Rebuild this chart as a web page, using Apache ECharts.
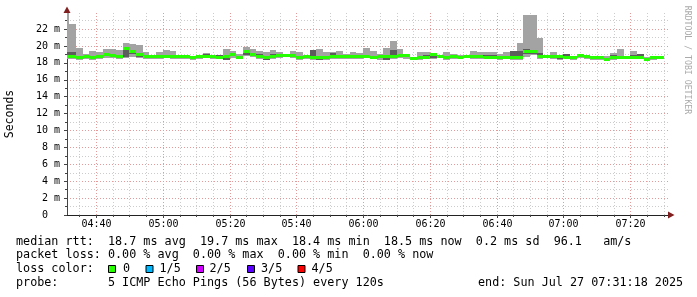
<!DOCTYPE html>
<html><head><meta charset="utf-8">
<script src="https://cdn.jsdelivr.net/npm/echarts@6/dist/echarts.min.js"></script>
<style>html,body{margin:0;padding:0;background:#fff}#c{width:697px;height:297px}</style>
</head><body><div id="c"></div>
<script>
// ---- data (ms) ----
const firstStep = '04:30';
const stepMinutes = 2;
const viewStart = '04:31:18';
const viewEnd = '07:31:18';
const medianRtt = [18.73,18.73,18.66,18.70,18.66,18.78,19.05,18.90,18.78,19.68,19.37,18.97,18.70,18.70,18.70,18.70,18.70,18.70,18.70,18.58,
  18.78,18.78,18.70,18.66,18.78,18.97,18.66,19.29,19.05,18.78,18.58,18.70,18.86,18.86,18.90,18.58,18.70,18.58,18.58,18.58,
  18.70,18.70,18.70,18.70,18.70,18.78,18.66,18.70,18.78,18.70,18.86,18.86,18.50,18.58,18.66,18.97,18.78,18.58,18.78,18.66,
  18.78,18.70,18.70,18.66,18.66,18.58,18.66,18.58,18.66,19.29,19.37,18.78,18.78,18.78,18.70,18.66,18.58,18.90,18.70,18.58,
  18.58,18.46,18.58,18.58,18.58,18.66,18.58,18.38,18.58,18.66];
const pingMax = [23.9,22.6,19.8,19.05,19.4,19.3,19.65,19.65,19.55,20.35,20.2,20.1,19.3,18.8,19.3,19.55,19.37,18.95,18.85,18.75,
  18.97,19.17,18.78,18.97,19.64,19.37,19.05,19.88,19.64,19.37,19.29,19.57,19.29,19.05,19.45,19.29,18.86,19.50,19.64,19.29,
  19.29,19.45,19.05,19.29,19.17,19.76,19.41,19.05,19.76,20.63,19.70,19.05,18.60,19.29,19.29,19.05,18.97,19.29,19.05,18.97,
  18.97,19.45,19.29,19.29,19.29,19.05,19.29,19.37,20.35,23.70,23.70,20.95,18.86,19.29,18.86,19.05,18.86,19.05,18.86,18.86,
  18.70,18.78,19.17,19.70,18.86,19.45,19.05,18.66,18.60,18.78];
const pingHigh = [19.3,19.25,18.8,18.8,18.8,18.85,19.1,19.1,18.85,19.75,19.45,19.05,18.8,18.8,18.8,18.8,18.8,18.8,18.8,18.7,
  18.97,19.05,18.8,18.97,18.85,19.05,18.75,19.35,19.15,19.05,18.65,19.0,18.95,18.95,18.95,18.7,18.8,19.5,18.7,18.7,
  19.17,18.8,18.9,18.8,18.8,18.85,18.75,18.95,18.97,19.57,18.95,18.95,18.6,18.7,18.97,19.05,18.85,18.65,18.86,18.75,
  18.85,18.8,18.8,18.97,18.97,18.86,18.75,19.37,19.45,19.7,19.57,19.2,18.85,18.85,18.8,19.05,18.65,18.95,18.8,18.65,
  18.7,18.55,18.9,18.65,18.65,18.95,19.05,18.45,18.65,18.75];
const pingLow = [18.6,18.6,18.45,18.55,18.55,18.6,18.9,18.8,18.65,18.75,19.0,18.75,18.6,18.6,18.6,18.6,18.6,18.6,18.6,18.45,
  18.65,18.7,18.6,18.55,18.38,18.85,18.55,18.97,18.9,18.7,18.38,18.6,18.78,18.75,18.78,18.45,18.6,18.5,18.4,18.45,
  18.6,18.6,18.6,18.6,18.6,18.65,18.55,18.55,18.38,18.65,18.75,18.75,18.4,18.5,18.55,18.58,18.65,18.5,18.7,18.55,
  18.65,18.6,18.6,18.55,18.55,18.5,18.55,18.45,18.46,19.0,19.05,18.7,18.65,18.65,18.46,18.55,18.5,18.8,18.6,18.5,
  18.5,18.35,18.5,18.5,18.5,18.55,18.5,18.3,18.5,18.55];
const pingMin = [18.45,18.5,18.4,18.45,18.4,18.45,18.6,18.55,18.5,18.55,18.7,18.6,18.5,18.5,18.5,18.55,18.5,18.5,18.5,18.35,
  18.5,18.55,18.5,18.45,18.35,18.55,18.45,18.8,18.75,18.5,18.35,18.5,18.6,18.65,18.6,18.4,18.5,18.35,18.35,18.4,
  18.45,18.5,18.45,18.5,18.5,18.55,18.45,18.4,18.35,18.5,18.6,18.5,18.3,18.4,18.45,18.5,18.55,18.4,18.5,18.5,
  18.55,18.5,18.5,18.45,18.45,18.4,18.45,18.35,18.4,18.7,18.9,18.5,18.55,18.5,18.4,18.5,18.4,18.6,18.45,18.4,
  18.4,18.3,18.4,18.45,18.45,18.5,18.45,18.25,18.4,18.5];
const yTicks = [0,2,4,6,8,10,12,14,16,18,20,22];
const xMajorLabels = ['04:40','05:00','05:20','05:40','06:00','06:20','06:40','07:00','07:20'];
const xMinorTicks = ['04:35','04:40','04:45','04:50','04:55','05:00','05:05','05:10','05:15','05:20','05:25','05:30','05:35',
  '05:40','05:45','05:50','05:55','06:00','06:05','06:10','06:15','06:20','06:25','06:30','06:35','06:40','06:45','06:50',
  '06:55','07:00','07:05','07:10','07:15','07:20','07:25','07:30'];
const lossColors = ['#26ff00','#00b8ff','#d000ff','#5a00ff','#ff0000'];
const lossLabels = ['0','1/5','2/5','3/5','4/5'];
const statsLine1 = 'median rtt:  18.7 ms avg  19.7 ms max  18.4 ms min  18.5 ms now  0.2 ms sd  96.1   am/s';
const statsLine2 = 'packet loss: 0.00 % avg  0.00 % max  0.00 % min  0.00 % now';
const probeLine = 'probe:       5 ICMP Echo Pings (56 Bytes) every 120s';
const endLine = 'end: Sun Jul 27 07:31:18 2025';

// ---- helpers ----
function toMin(s){const p=s.split(':').map(Number);return p[0]*60+p[1]+(p[2]||0)/60;}
const t0 = toMin(firstStep);
const smokeData = medianRtt.map((m,i)=>[t0+i*stepMinutes, t0+(i+1)*stepMinutes, pingMin[i], pingLow[i], m, pingHigh[i], pingMax[i]]);
const gridData = xMinorTicks.map(s=>[toMin(s), xMajorLabels.indexOf(s) >= 0 ? 1 : 0, s]);

const MONO = '"DejaVu Sans Mono", monospace';
const chart = echarts.init(document.getElementById('c'), null, {renderer:'canvas'});
const graphics = [
  {type:'polygon', shape:{points:[[63.5,13],[70.5,13],[67,6.5]]}, style:{fill:'#7f1f1f'}, z:100},
  {type:'polygon', shape:{points:[[668,211.5],[668,218.5],[674.5,215]]}, style:{fill:'#7f1f1f'}, z:100},
  {type:'text', x:10, y:114, rotation:Math.PI/2, style:{text:'Seconds', font:'11.5px '+MONO, fill:'#000', align:'center', verticalAlign:'middle'}},
  {type:'text', x:687, y:60, rotation:-Math.PI/2, style:{text:'RRDTOOL / TOBI OETIKER', font:'8.2px '+MONO, fill:'#aaaaaa', align:'center', verticalAlign:'middle'}},
  {type:'text', x:16, y:241.5, style:{text:statsLine1, font:'11.75px '+MONO, fill:'#000', verticalAlign:'middle'}},
  {type:'text', x:16, y:255.3, style:{text:statsLine2, font:'11.75px '+MONO, fill:'#000', verticalAlign:'middle'}},
  {type:'text', x:16, y:269.3, style:{text:'loss color:', font:'11.75px '+MONO, fill:'#000', verticalAlign:'middle'}},
  {type:'text', x:16, y:283.3, style:{text:probeLine, font:'11.75px '+MONO, fill:'#000', verticalAlign:'middle'}},
  {type:'text', x:478, y:283.3, style:{text:endLine, font:'11.75px '+MONO, fill:'#000', verticalAlign:'middle'}}
];
const boxX = [108.5,146,196.5,247.5,298];
const labX = [123,159.5,209.5,261,311.5];
lossColors.forEach((c,i)=>{
  graphics.push({type:'rect', shape:{x:boxX[i], y:265.5, width:7, height:7}, style:{fill:c, stroke:'#000', lineWidth:1}});
  graphics.push({type:'text', x:labX[i], y:269.3, style:{text:lossLabels[i], font:'11.75px '+MONO, fill:'#000', verticalAlign:'middle'}});
});

const option = {
  backgroundColor:'#ffffff',
  animation:false,
  grid:{left:67, right:29, top:12.2, bottom:82},
  xAxis:{type:'value', min:toMin(viewStart), max:toMin(viewEnd),
    axisLine:{show:true, onZero:false, lineStyle:{color:'#222', width:1}},
    axisTick:{show:false}, axisLabel:{show:false}, splitLine:{show:false}},
  yAxis:{type:'value', min:0, max:24, interval:2,
    axisLine:{show:true, lineStyle:{color:'#444', width:1}},
    axisTick:{show:true, length:3, lineStyle:{color:'#444'}},
    minorTick:{show:true, splitNumber:2, length:2, lineStyle:{color:'#444'}},
    splitLine:{show:true, showMaxLine:false, showMinLine:false, lineStyle:{color:'#e29a9a', type:[1,2], width:1}},
    minorSplitLine:{show:true, lineStyle:{color:'#cccccc', type:[1,2], width:1}},
    axisLabel:{margin:7, fontFamily:'DejaVu Sans Mono', fontSize:10, color:'#000', showMaxLabel:false,
      formatter:v=> yTicks.indexOf(v) < 0 ? '' : (v===0 ? '0  ' : v+' m')}},
  series:[
    {type:'custom', z:1, silent:true, clip:false, data:gridData, encode:{x:0, y:1},
      renderItem:(params, api)=>{
        const t = api.value(0), major = api.value(1) === 1;
        const pb = api.coord([t, 0]), pt = api.coord([t, 24]);
        const x = Math.round(pb[0]) + 0.5;
        const ch = [
          {type:'line', shape:{x1:x, y1:pb[1], x2:x, y2:pt[1]}, style:{stroke: major ? '#e29a9a' : '#cccccc', lineWidth:1, lineDash:[1,2]}},
          {type:'line', shape:{x1:x, y1:pb[1], x2:x, y2:pb[1] + (major ? 3 : 2)}, style:{stroke:'#444', lineWidth:1}}
        ];
        if (major) ch.push({type:'text', x:x, y:pb[1] + 9.3, style:{text: xMinorTicks[params.dataIndex], font:'10px '+MONO, fill:'#000', align:'center', verticalAlign:'middle'}});
        return {type:'group', children:ch};
      }},
    {type:'custom', z:3, silent:true, data:smokeData, encode:{x:[0,1], y:[2,6]},
      renderItem:(params, api)=>{
        const cs = params.coordSys;
        let xa = Math.round(api.coord([api.value(0), 0])[0]);
        let xb = Math.round(api.coord([api.value(1), 0])[0]);
        xa = Math.max(xa, Math.round(cs.x)); xb = Math.min(xb, Math.round(cs.x + cs.width));
        if (xb <= xa) return null;
        const Y = v => api.coord([api.value(0), v])[1];
        const w = xb - xa;
        const yMax = Math.round(Y(api.value(6))), yMin = Math.round(Y(api.value(2)));
        const yHi = Math.round(Y(api.value(5))), yLo = Math.round(Y(api.value(3)));
        const yMed = Y(api.value(4));
        return {type:'group', children:[
          {type:'rect', shape:{x:xa, y:yMax, width:w, height:Math.max(1, yMin-yMax)}, style:{fill:'#a3a3a3'}},
          {type:'rect', shape:{x:xa, y:yHi, width:w, height:Math.max(1, yLo-yHi)}, style:{fill:'#5c5c5c'}},
          {type:'rect', shape:{x:xa, y:Math.round(yMed-1.5), width:w, height:3}, style:{fill:lossColors[0]}}
        ]};
      }}
  ],
  graphic: graphics
};
chart.setOption(option);
</script>
</body></html>
